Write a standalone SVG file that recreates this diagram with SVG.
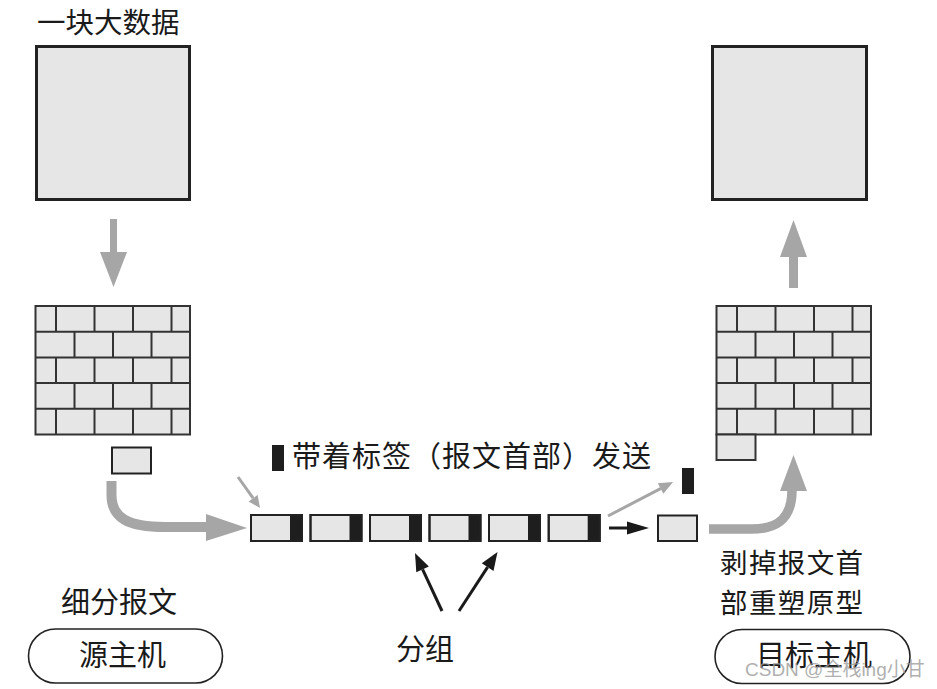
<svg xmlns="http://www.w3.org/2000/svg" xmlns:xlink="http://www.w3.org/1999/xlink" width="937" height="689" viewBox="0 0 937 689">
<style>
  .t { font-family: "Noto Sans CJK SC", "Liberation Sans", sans-serif; font-size: 29px; fill: #1a1a1a; }
  .big { fill: #e6e6e6; stroke: #222; stroke-width: 3; }
  .brick { fill: #e6e6e6; stroke: #333; stroke-width: 2; }
  .bl { fill: none; stroke: #333; stroke-width: 2; }
  .pk { fill: #e6e6e6; stroke: #222; stroke-width: 2; }
  .tag { fill: #1e1e1e; }
  .host { fill: #fff; stroke: #222; stroke-width: 1.6; }
  .ga { fill: #a6a6a6; }
  .gl { fill: none; stroke: #a6a6a6; }
  .ka { fill: #1a1a1a; }
  .kl { fill: none; stroke: #1a1a1a; stroke-width: 3; }
  .wm { font-family: "Liberation Sans", "Noto Sans CJK SC", sans-serif; font-size: 19px; fill: #9a9a9a; fill-opacity: 0.8; }
</style>
<defs>
  <g id="wall">
    <rect class="brick" x="35.5" y="306" width="154.5" height="128.5"/>
    <path class="bl" d="M35.5,331.7H190M35.5,357.4H190M35.5,383.1H190M35.5,408.8H190
      M56,306V331.7M94.5,306V331.7M133,306V331.7M171.5,306V331.7
      M74.5,331.7V357.4M113,331.7V357.4M151.5,331.7V357.4
      M56,357.4V383.1M94.5,357.4V383.1M133,357.4V383.1M171.5,357.4V383.1
      M74.5,383.1V408.8M113,383.1V408.8M151.5,383.1V408.8
      M56,408.8V434.5M94.5,408.8V434.5M133,408.8V434.5M171.5,408.8V434.5"/>
  </g>
  <g id="packet">
    <rect class="pk" x="0" y="0" width="51" height="26"/>
    <rect class="tag" x="39" y="0" width="12" height="26"/>
    <rect x="0" y="0" width="51" height="26" fill="none" stroke="#222" stroke-width="2"/>
  </g>
</defs>

<g id="big-data">
  <text class="t" x="37" y="33" style="font-size:28.5px">一块大数据</text>
  <rect class="big" x="36.5" y="46.5" width="153" height="153"/>
</g>

<g id="split-data">
  <use xlink:href="#wall"/>
  <rect class="pk" x="112" y="447.5" width="39" height="26"/>
</g>

<g id="target-data">
  <rect class="big" x="712.5" y="46.5" width="154" height="153"/>
</g>

<g id="rebuilt-data">
  <use xlink:href="#wall" transform="translate(681,0)"/>
  <rect class="brick" x="716.5" y="434.5" width="39" height="25.5"/>
</g>

<g id="packets">
  <use xlink:href="#packet" x="251" y="515"/>
  <use xlink:href="#packet" x="310.5" y="515"/>
  <use xlink:href="#packet" x="370" y="515"/>
  <use xlink:href="#packet" x="429.5" y="515"/>
  <use xlink:href="#packet" x="489" y="515"/>
  <use xlink:href="#packet" x="548.7" y="515"/>
</g>

<g id="header-label">
  <rect class="tag" x="272" y="445" width="12" height="26"/>
  <text class="t" x="292" y="467" textLength="359" lengthAdjust="spacing">带着标签（报文首部）发送</text>
</g>

<g id="stripped-header">
  <rect class="tag" x="682" y="468" width="12" height="26"/>
</g>

<g id="stripped-packet">
  <rect class="pk" x="658" y="515.5" width="39" height="25.5"/>
</g>

<g id="split-label">
  <text class="t" x="61" y="613">细分报文</text>
</g>

<g id="source-host">
  <rect class="host" x="28.5" y="629" width="194" height="54" rx="27" ry="27"/>
  <text class="t" x="79" y="666">源主机</text>
</g>

<g id="group-label">
  <text class="t" x="396" y="659.5">分组</text>
</g>

<g id="rebuild-label">
  <text class="t" x="720" y="573" style="font-size:27.5px" textLength="143" lengthAdjust="spacing">剥掉报文首</text>
  <text class="t" x="720" y="613" style="font-size:27.5px" textLength="143" lengthAdjust="spacing">部重塑原型</text>
</g>

<g id="target-host">
  <rect class="host" x="715" y="629.5" width="195" height="54" rx="27" ry="27"/>
  <text class="t" x="756" y="666">目标主机</text>
</g>

<g id="connectors">
  <!-- down arrow -->
  <polygon class="ga" points="110,219 117,219 117,252 127,252 113.5,287 100,252 110,252"/>
  <!-- up arrow -->
  <polygon class="ga" points="789,288 798,288 798,257 807,257 793.5,220 780,257 789,257"/>
  <!-- left curved arrow -->
  <path class="gl" stroke-width="10" d="M111.5,481 V495 C111.5,518 128,527 165,527 H208"/>
  <polygon class="ga" points="206,514 247,528 206,541"/>
  <!-- right curved arrow -->
  <path class="gl" stroke-width="9.5" d="M709,529 H752 C780,529 792,516 792,490"/>
  <polygon class="ga" points="780,491 807,491 793.5,455"/>
  <!-- thin gray arrow into first packet -->
  <line class="gl" stroke-width="3" x1="238" y1="477" x2="253.1" y2="498.2"/>
  <polygon class="ga" points="248.6,501.4 257.6,495.1 260,508"/>
  <!-- gray arrow header leaving -->
  <line class="gl" stroke-width="3" x1="608" y1="516" x2="661" y2="488.3"/>
  <polygon class="ga" points="663.4,493.8 657.8,483.2 673,482"/>
  <!-- black arrow to stripped packet -->
  <line class="kl" x1="609" y1="528" x2="628" y2="528"/>
  <polygon class="ka" points="627,521.5 649,528 627,534.5"/>
  <!-- 分组 arrows -->
  <line class="kl" x1="442" y1="611" x2="422.6" y2="569.3"/>
  <polygon class="ka" points="428.9,566.4 416.3,572.3 415,553"/>
  <line class="kl" x1="459" y1="611" x2="487.6" y2="567.1"/>
  <polygon class="ka" points="493.5,570.9 481.8,563.3 497.5,552"/>
</g>

<text class="wm" x="745" y="676">CSDN @全栈ing小甘</text>
</svg>
